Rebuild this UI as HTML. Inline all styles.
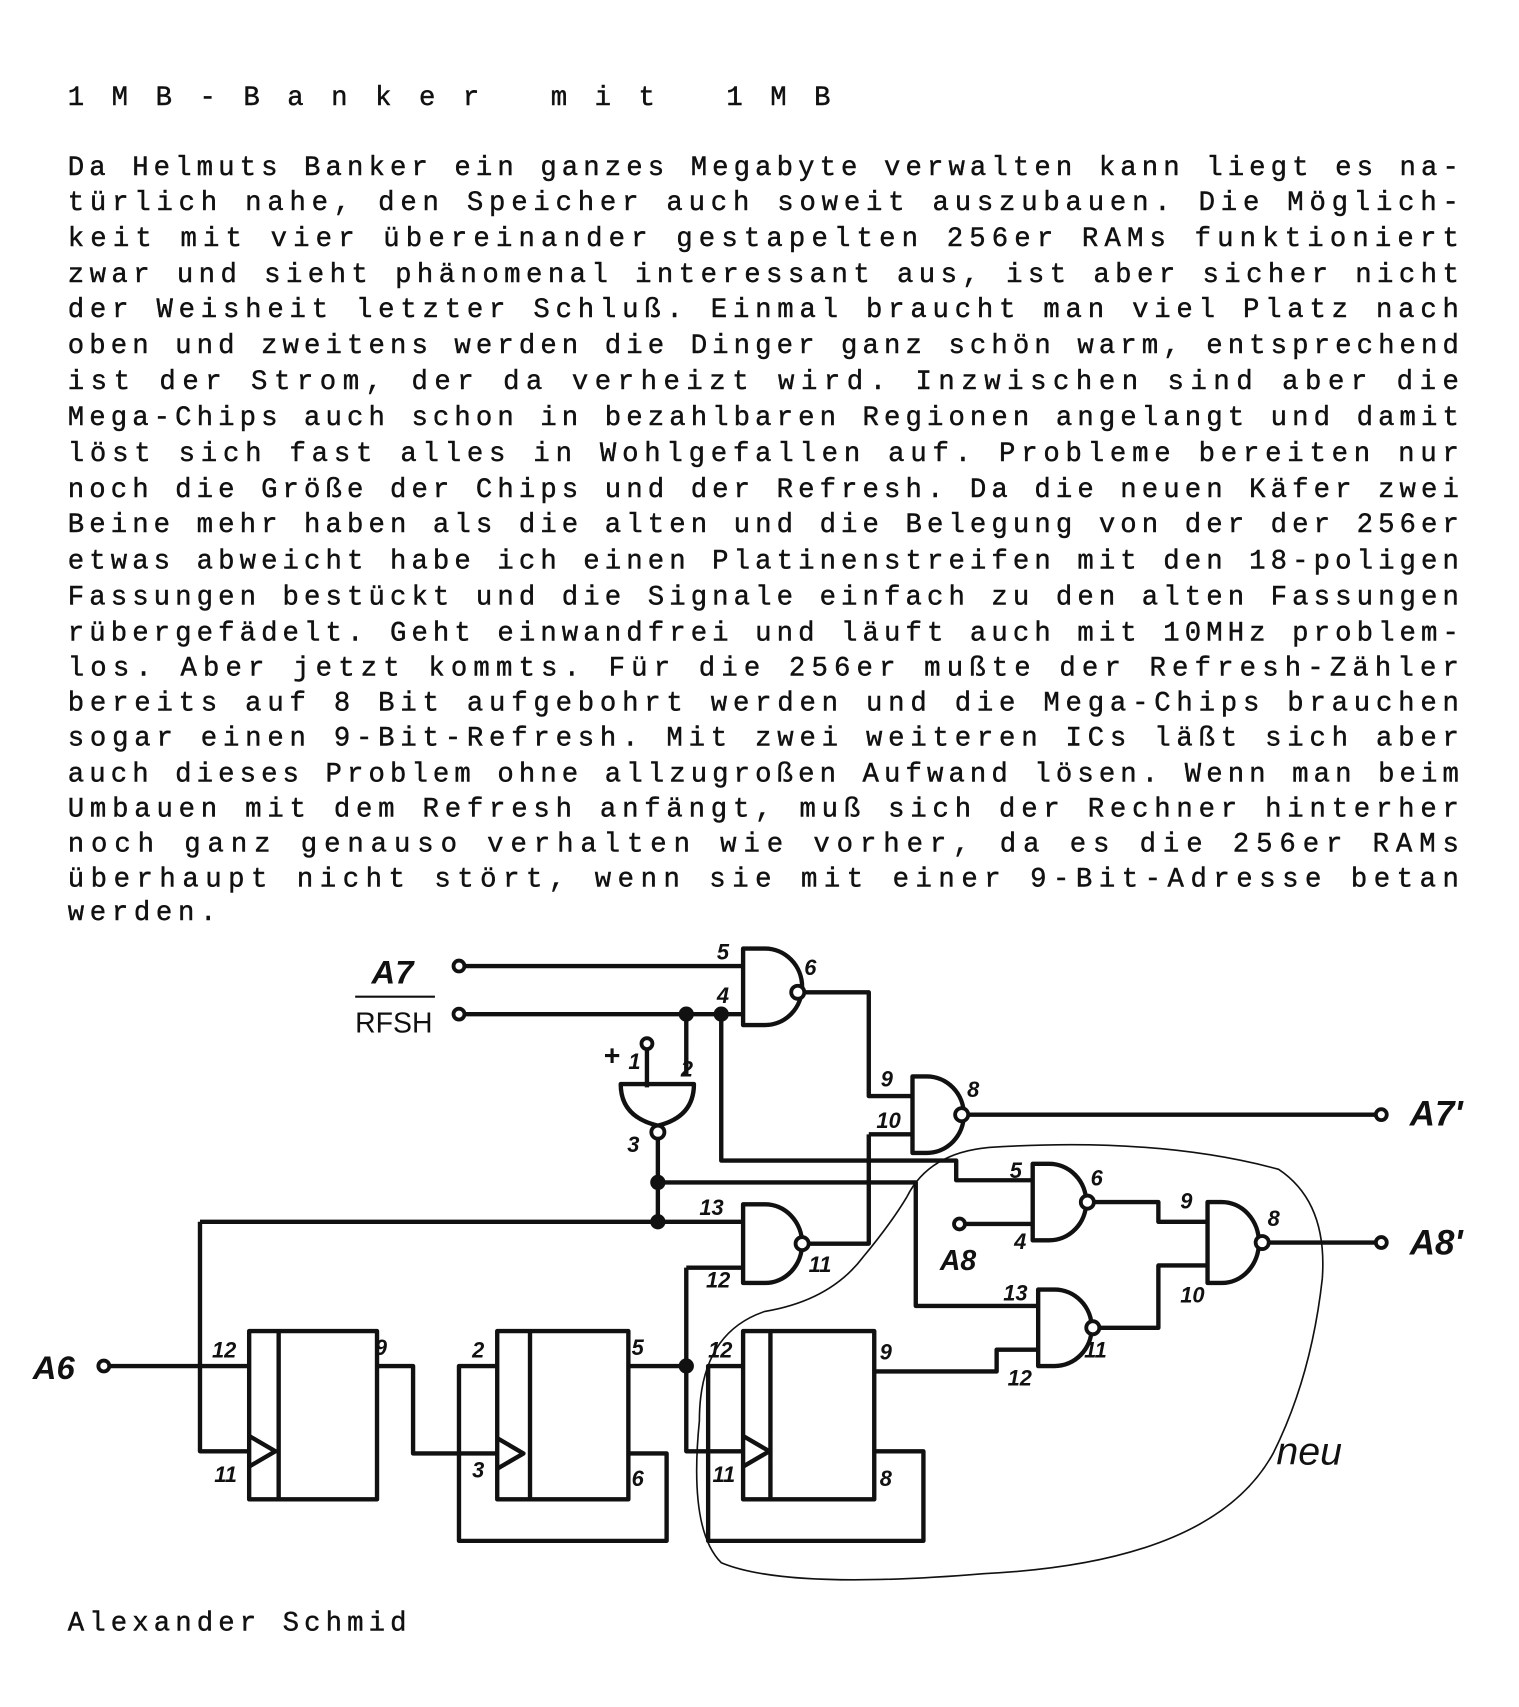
<!DOCTYPE html>
<html><head><meta charset="utf-8"><style>
html,body{margin:0;padding:0;background:#fff}
svg{display:block}
.t{font-family:"Liberation Mono",monospace;font-size:25px;fill:#111;stroke:#111;stroke-width:0.4}
.h{font-family:"Liberation Sans",sans-serif;font-style:italic;font-weight:bold;fill:#111}
</style></head><body>
<svg width="1519" height="1707" viewBox="0 0 1390 1562" xmlns="http://www.w3.org/2000/svg">
<rect width="1390" height="1562" fill="#fff"/>
<text class="t" x="62" y="96" font-size="30" textLength="698" lengthAdjust="spacing">1MB-Banker  mit  1MB</text>
<g class="t" xml:space="preserve">
<text x="62" y="160" textLength="1273" lengthAdjust="spacing">Da Helmuts Banker ein ganzes Megabyte verwalten kann liegt es na-</text>
<text x="62" y="192" textLength="1273" lengthAdjust="spacing">türlich  nahe, den Speicher auch soweit auszubauen. Die  Möglich-</text>
<text x="62" y="225" textLength="1273" lengthAdjust="spacing">keit  mit vier übereinander gestapelten 256er  RAMs  funktioniert</text>
<text x="62" y="258" textLength="1273" lengthAdjust="spacing">zwar und sieht phänomenal interessant aus, ist aber sicher  nicht</text>
<text x="62" y="290" textLength="1273" lengthAdjust="spacing">der  Weisheit letzter Schluß. Einmal braucht man viel Platz  nach</text>
<text x="62" y="323" textLength="1273" lengthAdjust="spacing">oben und zweitens werden die Dinger ganz schön warm, entsprechend</text>
<text x="62" y="356" textLength="1273" lengthAdjust="spacing">ist  der  Strom, der da verheizt wird. Inzwischen sind  aber  die</text>
<text x="62" y="389" textLength="1273" lengthAdjust="spacing">Mega-Chips auch schon in bezahlbaren Regionen angelangt und damit</text>
<text x="62" y="422" textLength="1273" lengthAdjust="spacing">löst  sich fast alles in Wohlgefallen auf. Probleme bereiten  nur</text>
<text x="62" y="455" textLength="1273" lengthAdjust="spacing">noch die Größe der Chips und der Refresh. Da die neuen Käfer zwei</text>
<text x="62" y="487" textLength="1273" lengthAdjust="spacing">Beine mehr haben als die alten und die Belegung von der der 256er</text>
<text x="62" y="520" textLength="1273" lengthAdjust="spacing">etwas abweicht habe ich einen Platinenstreifen mit den 18-poligen</text>
<text x="62" y="553" textLength="1273" lengthAdjust="spacing">Fassungen bestückt und die Signale einfach zu den alten Fassungen</text>
<text x="62" y="586" textLength="1273" lengthAdjust="spacing">rübergefädelt. Geht einwandfrei und läuft auch mit 10MHz problem-</text>
<text x="62" y="618" textLength="1273" lengthAdjust="spacing">los.  Aber jetzt kommts. Für die 256er mußte  der  Refresh-Zähler</text>
<text x="62" y="650" textLength="1273" lengthAdjust="spacing">bereits  auf 8 Bit aufgebohrt werden und die Mega-Chips  brauchen</text>
<text x="62" y="682" textLength="1273" lengthAdjust="spacing">sogar  einen 9-Bit-Refresh. Mit zwei weiteren ICs läßt sich  aber</text>
<text x="62" y="715" textLength="1273" lengthAdjust="spacing">auch dieses Problem ohne allzugroßen Aufwand lösen. Wenn man beim</text>
<text x="62" y="747" textLength="1273" lengthAdjust="spacing">Umbauen  mit dem Refresh anfängt, muß sich der Rechner  hinterher</text>
<text x="62" y="779" textLength="1273" lengthAdjust="spacing">noch  ganz  genauso verhalten wie vorher, da es  die  256er  RAMs</text>
<text x="62" y="811" textLength="1273" lengthAdjust="spacing">überhaupt  nicht  stört, wenn sie mit einer  9-Bit-Adresse  betan</text>
<text x="62" y="842" textLength="136" lengthAdjust="spacing">werden.</text>
<text x="62" y="1492" textLength="310" lengthAdjust="spacing">Alexander Schmid</text>
</g>
<g fill="none" stroke="#111" stroke-width="4" stroke-linejoin="round">
<path d="M424 884H680M424 928H680M628 928V985M660 928V1062H875V1080H945M592 960V995"/>
<path d="M680 868H700A34 35 0 0 1 700 938H680Z"/>
<path d="M736 908H795V1003H835M795 1038H835M795 1038V1138H740"/>
<path d="M835 985H848A34 35 0 0 1 848 1055H835Z"/>
<path d="M886 1020H1258"/>
<path d="M568 992H635Q635 1022 602 1030Q568 1022 568 992Z"/>
<path d="M602 1042V1118M602 1082H838V1195H950M183 1118H680M183 1118V1328H228M628 1160H680M628 1160V1250"/>
<path d="M680 1102H700A34 36 0 0 1 700 1174H680Z"/>
<rect x="228" y="1218" width="117" height="154"/><path d="M255 1218V1372M228 1314L252 1328L228 1342"/>
<path d="M98 1250H228M345 1250H378V1330H455"/>
<rect x="455" y="1218" width="120" height="154"/><path d="M485 1218V1372M455 1316L479 1330L455 1344"/>
<path d="M455 1250H420V1410H610V1330H575M575 1250H628M628 1250V1328H680"/>
<rect x="680" y="1218" width="120" height="154"/><path d="M705 1218V1372M680 1314L704 1328L680 1342"/>
<path d="M680 1250H648V1410H845V1328H800M800 1255H912V1235H950"/>
<path d="M945 1065H960A34 35 0 0 1 960 1135H945Z"/>
<path d="M881 1120H945M1001 1100H1060V1118H1105"/>
<path d="M950 1180H965A34 35 0 0 1 965 1250H950Z"/>
<path d="M1006 1215H1060V1158H1105"/>
<path d="M1105 1100H1118A34 37 0 0 1 1118 1174H1105Z"/>
<path d="M1161 1137H1258"/>
</g>
<g fill="#fff" stroke="#111" stroke-width="3.5">
<circle cx="420" cy="884" r="5"/><circle cx="420" cy="928" r="5"/><circle cx="592" cy="955" r="5"/>
<circle cx="730" cy="908" r="6"/><circle cx="880" cy="1020" r="6"/><circle cx="602" cy="1036" r="6"/>
<circle cx="734" cy="1138" r="6"/><circle cx="995" cy="1100" r="6"/><circle cx="1000" cy="1215" r="6"/>
<circle cx="1155" cy="1137" r="6"/><circle cx="1264" cy="1020" r="5"/><circle cx="1264" cy="1137" r="5"/>
<circle cx="95" cy="1250" r="5"/><circle cx="878" cy="1120" r="5"/>
</g>
<g fill="#111">
<circle cx="628" cy="928" r="7"/><circle cx="660" cy="928" r="7"/><circle cx="602" cy="1082" r="7"/>
<circle cx="602" cy="1118" r="7"/><circle cx="628" cy="1250" r="7"/>
</g>
<path d="M830 1095Q850 1055 905 1050Q1060 1040 1170 1070Q1215 1100 1210 1170Q1200 1260 1165 1330Q1110 1430 900 1440Q720 1455 660 1430Q630 1400 640 1300Q640 1220 700 1200Q760 1190 790 1150Q815 1120 830 1095" fill="none" stroke="#111" stroke-width="1.5"/>
<g class="h">
<text x="340" y="900" font-size="30">A7</text>
<text x="325" y="945" font-size="26" font-style="normal" font-weight="normal">RFSH</text>
<path d="M325 912H398" stroke="#111" stroke-width="2"/>
<text x="1290" y="1030" font-size="32">A7'</text>
<text x="1290" y="1148" font-size="32">A8'</text>
<text x="30" y="1262" font-size="30">A6</text>
<text x="860" y="1162" font-size="26">A8</text>
<text x="1168" y="1340" font-size="36" font-weight="normal">neu</text>
<text x="552" y="975" font-size="26">+</text>
<g font-size="20">
<text x="656" y="878">5</text><text x="736" y="892">6</text><text x="656" y="918">4</text>
<text x="623" y="985">2</text><text x="574" y="1054">3</text><text x="575" y="978">1</text>
<text x="806" y="994">9</text><text x="885" y="1004">8</text><text x="802" y="1032">10</text>
<text x="640" y="1112">13</text><text x="740" y="1164">11</text><text x="646" y="1178">12</text>
<text x="194" y="1242">12</text><text x="343" y="1240">9</text><text x="196" y="1356">11</text>
<text x="432" y="1242">2</text><text x="578" y="1240">5</text><text x="432" y="1352">3</text><text x="578" y="1360">6</text>
<text x="648" y="1242">12</text><text x="805" y="1244">9</text><text x="652" y="1356">11</text><text x="805" y="1360">8</text>
<text x="924" y="1078">5</text><text x="998" y="1085">6</text><text x="928" y="1143">4</text>
<text x="1080" y="1106">9</text><text x="1160" y="1122">8</text><text x="1080" y="1192">10</text>
<text x="918" y="1190">13</text><text x="992" y="1242">11</text><text x="922" y="1268">12</text>
</g>
</g>
</svg>
</body></html>
